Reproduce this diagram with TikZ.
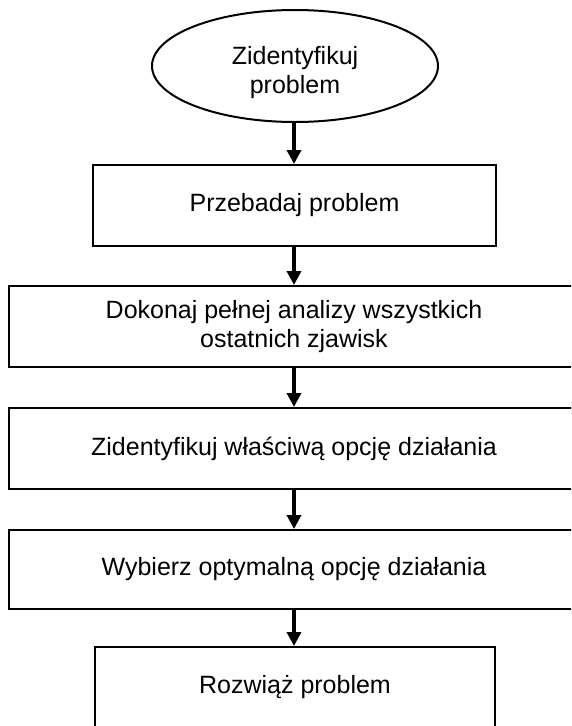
\documentclass[tikz,border=0pt]{standalone}
\usepackage{fontspec}
\setmainfont{Liberation Sans}
\usetikzlibrary{shapes.geometric,arrows.meta}

\tikzset{
  flowbox/.style={draw=black, line width=2pt, rectangle, inner sep=0pt,
    align=center, font=\fontsize{25}{29}\selectfont},
  startshape/.style={draw=black, line width=2pt, ellipse, inner sep=0pt,
    minimum width=286pt, minimum height=112pt},
  flowtext/.style={align=center, inner sep=0pt, font=\fontsize{25}{29}\selectfont},
  flowarrow/.style={line width=3.5pt, -{Triangle[width=14pt,length=14pt]}}
}

\begin{document}
\begin{tikzpicture}[x=1pt, y=-1pt]
  \clip (0,0) rectangle (571,726);
  \fill[white] (0,0) rectangle (571,726);

  % start ellipse with its caption set slightly below centre
  \node[startshape] (start) at (295,66) {};
  \node[flowtext] (starttext) at (295,73) {Zidentyfikuj\\problem};

  \node[flowbox, minimum width=403pt, minimum height=81pt] (study) at (294.5,205.5)
    {Przebadaj problem};
  \node[flowbox, minimum width=570pt, minimum height=81pt] (analyse) at (294,326.5)
    {Dokonaj pełnej analizy wszystkich\\ostatnich zjawisk};
  \node[flowbox, minimum width=570pt, minimum height=81pt] (options) at (294,448.5)
    {Zidentyfikuj właściwą opcję działania};
  \node[flowbox, minimum width=570pt, minimum height=79pt] (choose) at (294,569.5)
    {Wybierz optymalną opcję działania};
  \node[flowbox, minimum width=400pt, minimum height=81pt] (solve) at (295,687.5)
    {Rozwiąż problem};

  % vertical spine used for the connectors
  \coordinate (spine) at (294,0);

  \draw[flowarrow] (start.south -| spine) -- (study.north -| spine);
  \draw[flowarrow] (study.south -| spine) -- (analyse.north -| spine);
  \draw[flowarrow] (analyse.south -| spine) -- (options.north -| spine);
  \draw[flowarrow] (options.south -| spine) -- (choose.north -| spine);
  \draw[flowarrow] (choose.south -| spine) -- (solve.north -| spine);
\end{tikzpicture}
\end{document}
